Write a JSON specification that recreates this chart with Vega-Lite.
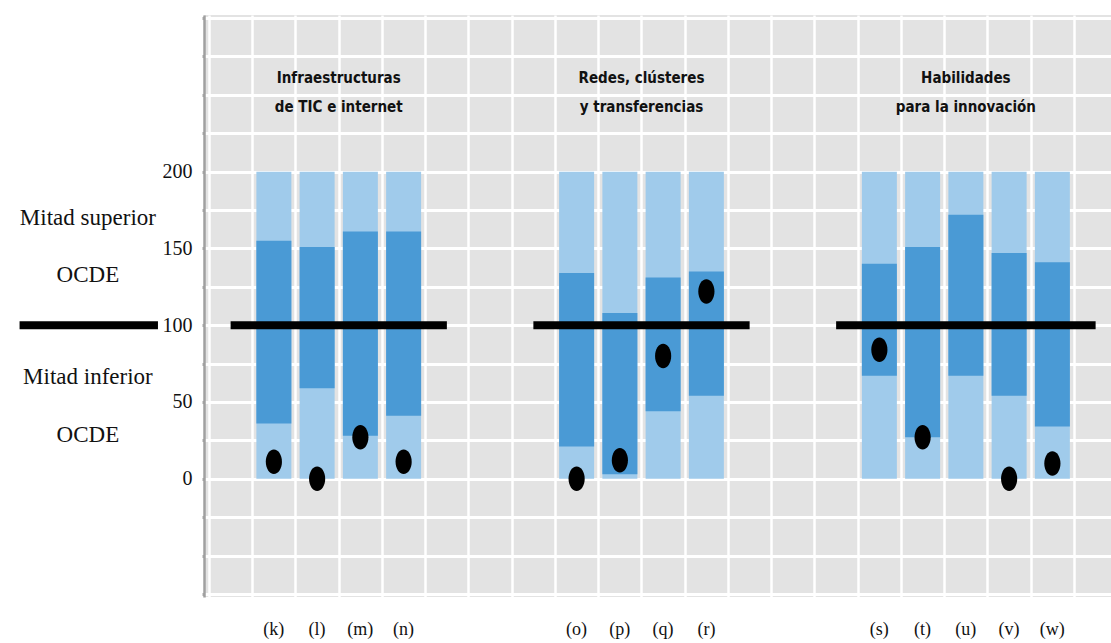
{
  "$schema": "https://vega.github.io/schema/vega-lite/v6.json",
  "width": 907,
  "height": 582,
  "autosize": {"type": "none"},
  "padding": {"left": 204, "top": 15, "right": 0, "bottom": 46},
  "background": "#ffffff",
  "datasets": {
    "bars": [
      {"label": "(k)", "group": "Infraestructuras de TIC e internet", "pos": 1.5, "lo": 36, "hi": 155, "dot": 11},
      {"label": "(l)", "group": "Infraestructuras de TIC e internet", "pos": 2.5, "lo": 59, "hi": 151, "dot": 0},
      {"label": "(m)", "group": "Infraestructuras de TIC e internet", "pos": 3.5, "lo": 28, "hi": 161, "dot": 27},
      {"label": "(n)", "group": "Infraestructuras de TIC e internet", "pos": 4.5, "lo": 41, "hi": 161, "dot": 11},
      {"label": "(o)", "group": "Redes, clústeres y transferencias", "pos": 8.5, "lo": 21, "hi": 134, "dot": 0},
      {"label": "(p)", "group": "Redes, clústeres y transferencias", "pos": 9.5, "lo": 3, "hi": 108, "dot": 12},
      {"label": "(q)", "group": "Redes, clústeres y transferencias", "pos": 10.5, "lo": 44, "hi": 131, "dot": 80},
      {"label": "(r)", "group": "Redes, clústeres y transferencias", "pos": 11.5, "lo": 54, "hi": 135, "dot": 122},
      {"label": "(s)", "group": "Habilidades para la innovación", "pos": 15.5, "lo": 67, "hi": 140, "dot": 84},
      {"label": "(t)", "group": "Habilidades para la innovación", "pos": 16.5, "lo": 27, "hi": 151, "dot": 27},
      {"label": "(u)", "group": "Habilidades para la innovación", "pos": 17.5, "lo": 67, "hi": 172, "dot": null},
      {"label": "(v)", "group": "Habilidades para la innovación", "pos": 18.5, "lo": 54, "hi": 147, "dot": 0},
      {"label": "(w)", "group": "Habilidades para la innovación", "pos": 19.5, "lo": 34, "hi": 141, "dot": 10}
    ],
    "rules": [
      {"name": "legend", "from": -4.38, "to": -1.18},
      {"name": "Infraestructuras de TIC e internet", "from": 0.5, "to": 5.5},
      {"name": "Redes, clústeres y transferencias", "from": 7.5, "to": 12.5},
      {"name": "Habilidades para la innovación", "from": 14.5, "to": 20.5}
    ],
    "titles": [
      {"title": "Infraestructuras\nde TIC e internet", "x": 3.0, "y": 261},
      {"title": "Redes, clústeres\ny transferencias", "x": 10.0, "y": 261},
      {"title": "Habilidades\npara la innovación", "x": 17.5, "y": 261}
    ],
    "notes": [
      {"text": "Mitad superior", "x": -2.8, "y": 170},
      {"text": "OCDE", "x": -2.8, "y": 133},
      {"text": "Mitad inferior", "x": -2.8, "y": 66},
      {"text": "OCDE", "x": -2.8, "y": 28.5}
    ]
  },
  "resolve": {"axis": {"y": "independent"}},
  "layer": [
    {
      "data": {"name": "bars"},
      "mark": {"type": "bar", "width": 35, "color": "#a0cbeb"},
      "encoding": {
        "x": {
          "field": "pos", "type": "quantitative",
          "scale": {"domain": [0, 20.74], "nice": false, "zero": false},
          "axis": {"values": [0,1,2,3,4,5,6,7,8,9,10,11,12,13,14,15,16,17,18,19,20], "tickCount": 30, "title": null}
        },
        "y": {"datum": 0, "type": "quantitative", "axis": null},
        "y2": {"datum": 200}
      }
    },
    {
      "data": {"name": "bars"},
      "mark": {"type": "bar", "width": 35, "color": "#4a9ad5"},
      "encoding": {
        "x": {"field": "pos", "type": "quantitative", "axis": {"title": null}},
        "y": {
          "field": "lo", "type": "quantitative",
          "scale": {"domain": [-77, 302], "nice": false, "zero": false},
          "axis": {
            "orient": "left", "offset": 0,
            "values": [-75,-50,-25,0,25,50,75,100,125,150,175,200,225,250,275,300],
            "tickCount": 30,
            "labels": false, "grid": true, "domain": true,
            "ticks": true, "tickSize": 2, "tickWidth": 3, "tickColor": "#a8a8a8",
            "title": null
          }
        },
        "y2": {"field": "hi"}
      }
    },
    {
      "data": {"name": "rules"},
      "mark": {"type": "rule", "color": "#000000", "strokeWidth": 8, "strokeCap": "butt"},
      "encoding": {
        "x": {"field": "from", "type": "quantitative", "axis": {"title": null}},
        "x2": {"field": "to"},
        "y": {"datum": 100, "type": "quantitative", "axis": null}
      }
    },
    {
      "data": {"name": "bars"},
      "transform": [{"filter": "isValid(datum.dot)"}],
      "mark": {"type": "point", "filled": true, "color": "#000000", "size": 600, "opacity": 1, "shape": "M -0.66 0 A 0.66 1 0 1 0 0.66 0 A 0.66 1 0 1 0 -0.66 0 Z"},
      "encoding": {
        "x": {"field": "pos", "type": "quantitative", "axis": {"title": null}},
        "y": {
          "field": "dot", "type": "quantitative",
          "axis": {"orient": "left", "offset": 0, "values": [0, 50, 100, 150, 200], "grid": false, "domain": false, "ticks": false, "labels": true, "title": null}
        }
      }
    },
    {
      "data": {"name": "bars"},
      "mark": {"type": "text", "font": "Liberation Serif", "fontSize": 18, "color": "#111111", "baseline": "middle", "align": "center"},
      "encoding": {
        "x": {"field": "pos", "type": "quantitative", "axis": {"title": null}},
        "y": {"datum": -98.5, "type": "quantitative", "axis": null},
        "text": {"field": "label"}
      }
    },
    {
      "data": {"name": "titles"},
      "mark": {"type": "text", "font": "'Liberation Sans Narrow', 'DejaVu Sans Condensed', sans-serif", "fontWeight": "bold", "fontSize": 15, "lineBreak": "\n", "lineHeight": 29, "color": "#111111", "baseline": "middle", "align": "center"},
      "encoding": {
        "x": {"field": "x", "type": "quantitative", "axis": {"title": null}},
        "y": {"field": "y", "type": "quantitative", "axis": null},
        "text": {"field": "title"}
      }
    },
    {
      "data": {"name": "notes"},
      "mark": {"type": "text", "font": "Liberation Serif", "fontSize": 23, "color": "#111111", "baseline": "middle", "align": "center"},
      "encoding": {
        "x": {"field": "x", "type": "quantitative", "axis": {"title": null}},
        "y": {"field": "y", "type": "quantitative", "axis": null},
        "text": {"field": "text"}
      }
    }
  ],
  "config": {
    "view": {"fill": "#e3e3e3", "stroke": null},
    "axisX": {"grid": true, "gridColor": "#ffffff", "gridWidth": 2.5, "gridOpacity": 1, "labels": false, "ticks": false, "domain": false, "labelFlush": false},
    "axisY": {"gridColor": "#ffffff", "gridWidth": 3, "gridOpacity": 1, "domainColor": "#a0a0a0", "domainWidth": 2.5, "labelFont": "Liberation Serif", "labelFontSize": 20, "labelColor": "#111111", "labelPadding": 12, "labelOverlap": false, "labelFlush": false}
  }
}
